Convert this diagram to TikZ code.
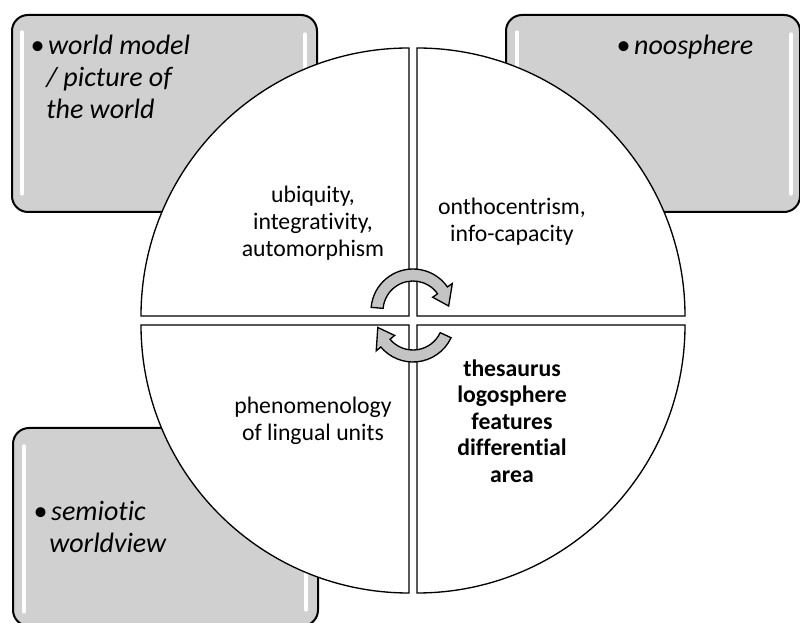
\documentclass[tikz,border=0pt]{standalone}
\usepackage{fontspec}
\setmainfont[Ligatures=NoCommon]{Carlito}

\definecolor{boxgray}{RGB}{208,208,208}
\definecolor{arrowgray}{RGB}{196,196,196}

\begin{document}
\begin{tikzpicture}[x=0.75pt,y=-0.75pt,
  corner/.style={draw=black,line width=1.5pt,fill=boxgray,rounded corners=12pt},
  shine/.style={white,line width=2.5pt,line cap=round},
  quad/.style={draw=black,line width=1pt,fill=white},
  turn/.style={draw=black,line width=1pt,fill=arrowgray},
  cornertext/.style={font=\fontsize{21}{24}\selectfont\itshape,align=left,anchor=base west,inner sep=0pt},
  quadtext/.style={font=\fontsize{17.8}{20.3}\selectfont,align=center,inner sep=0pt}]

\useasboundingbox (0,0) rectangle (800,623);

\filldraw[corner] (12,15) rectangle (317,212);
\filldraw[corner] (506,15) rectangle (800,212);
\filldraw[corner] (13,428) rectangle (318,626);
\draw[shine] (22,32) -- (22,194);
\draw[shine] (305,34) -- (305,192);
\draw[shine] (517,32) -- (517,194);
\draw[shine] (791,34) -- (791,194);
\draw[shine] (24,446) -- (24,612);
\draw[shine] (306,448) -- (306,610);

\filldraw[quad] (409,316) -- (141,316) arc[start angle=180,end angle=270,radius=268] -- cycle;
\filldraw[quad] (417,316) -- (417,48) arc[start angle=270,end angle=360,radius=268] -- cycle;
\filldraw[quad] (417,325) -- (685,325) arc[start angle=0,end angle=90,radius=268] -- cycle;
\filldraw[quad] (409,325) -- (409,593) arc[start angle=90,end angle=180,radius=268] -- cycle;

\coordinate (tc) at (413,311);
\coordinate (bc) at (413,320);
\filldraw[turn] ([shift={(185:42)}]tc) arc[start angle=185,end angle=325,radius=42]
  -- ([shift={(325:48)}]tc) -- ([shift={(352:36)}]tc) -- ([shift={(325:24)}]tc)
  -- ([shift={(325:30)}]tc) arc[start angle=325,end angle=185,radius=30] -- cycle;
\filldraw[turn] ([shift={(25:42)}]bc) arc[start angle=25,end angle=140,radius=42]
  -- ([shift={(140:48)}]bc) -- ([shift={(168:36)}]bc) -- ([shift={(140:24)}]bc)
  -- ([shift={(140:30)}]bc) arc[start angle=140,end angle=25,radius=30] -- cycle;

\node[cornertext] (world) at (30,119) {\textbullet\hspace{3pt}world model\\\hspace*{12pt}/ picture of\\\hspace*{12pt}the world};
\node[cornertext] (noo) at (616,55) {\textbullet\hspace{3pt}noosphere};
\node[cornertext] (semio) at (33,552) {\textbullet\hspace{3pt}semiotic\\\hspace*{12pt}worldview};

\node[quadtext] (ubi) at (313,223) {ubiquity,\\integrativity,\\automorphism};
\node[quadtext] (onto) at (512,222) {onthocentrism,\\info-capacity};
\node[quadtext] (pheno) at (313,421) {phenomenology\\of lingual units};
\node[quadtext,font=\fontsize{17.8}{19.9}\selectfont\bfseries] (thes) at (512,421) {thesaurus\\logosphere\\features\\differential\\area};
\end{tikzpicture}
\end{document}
